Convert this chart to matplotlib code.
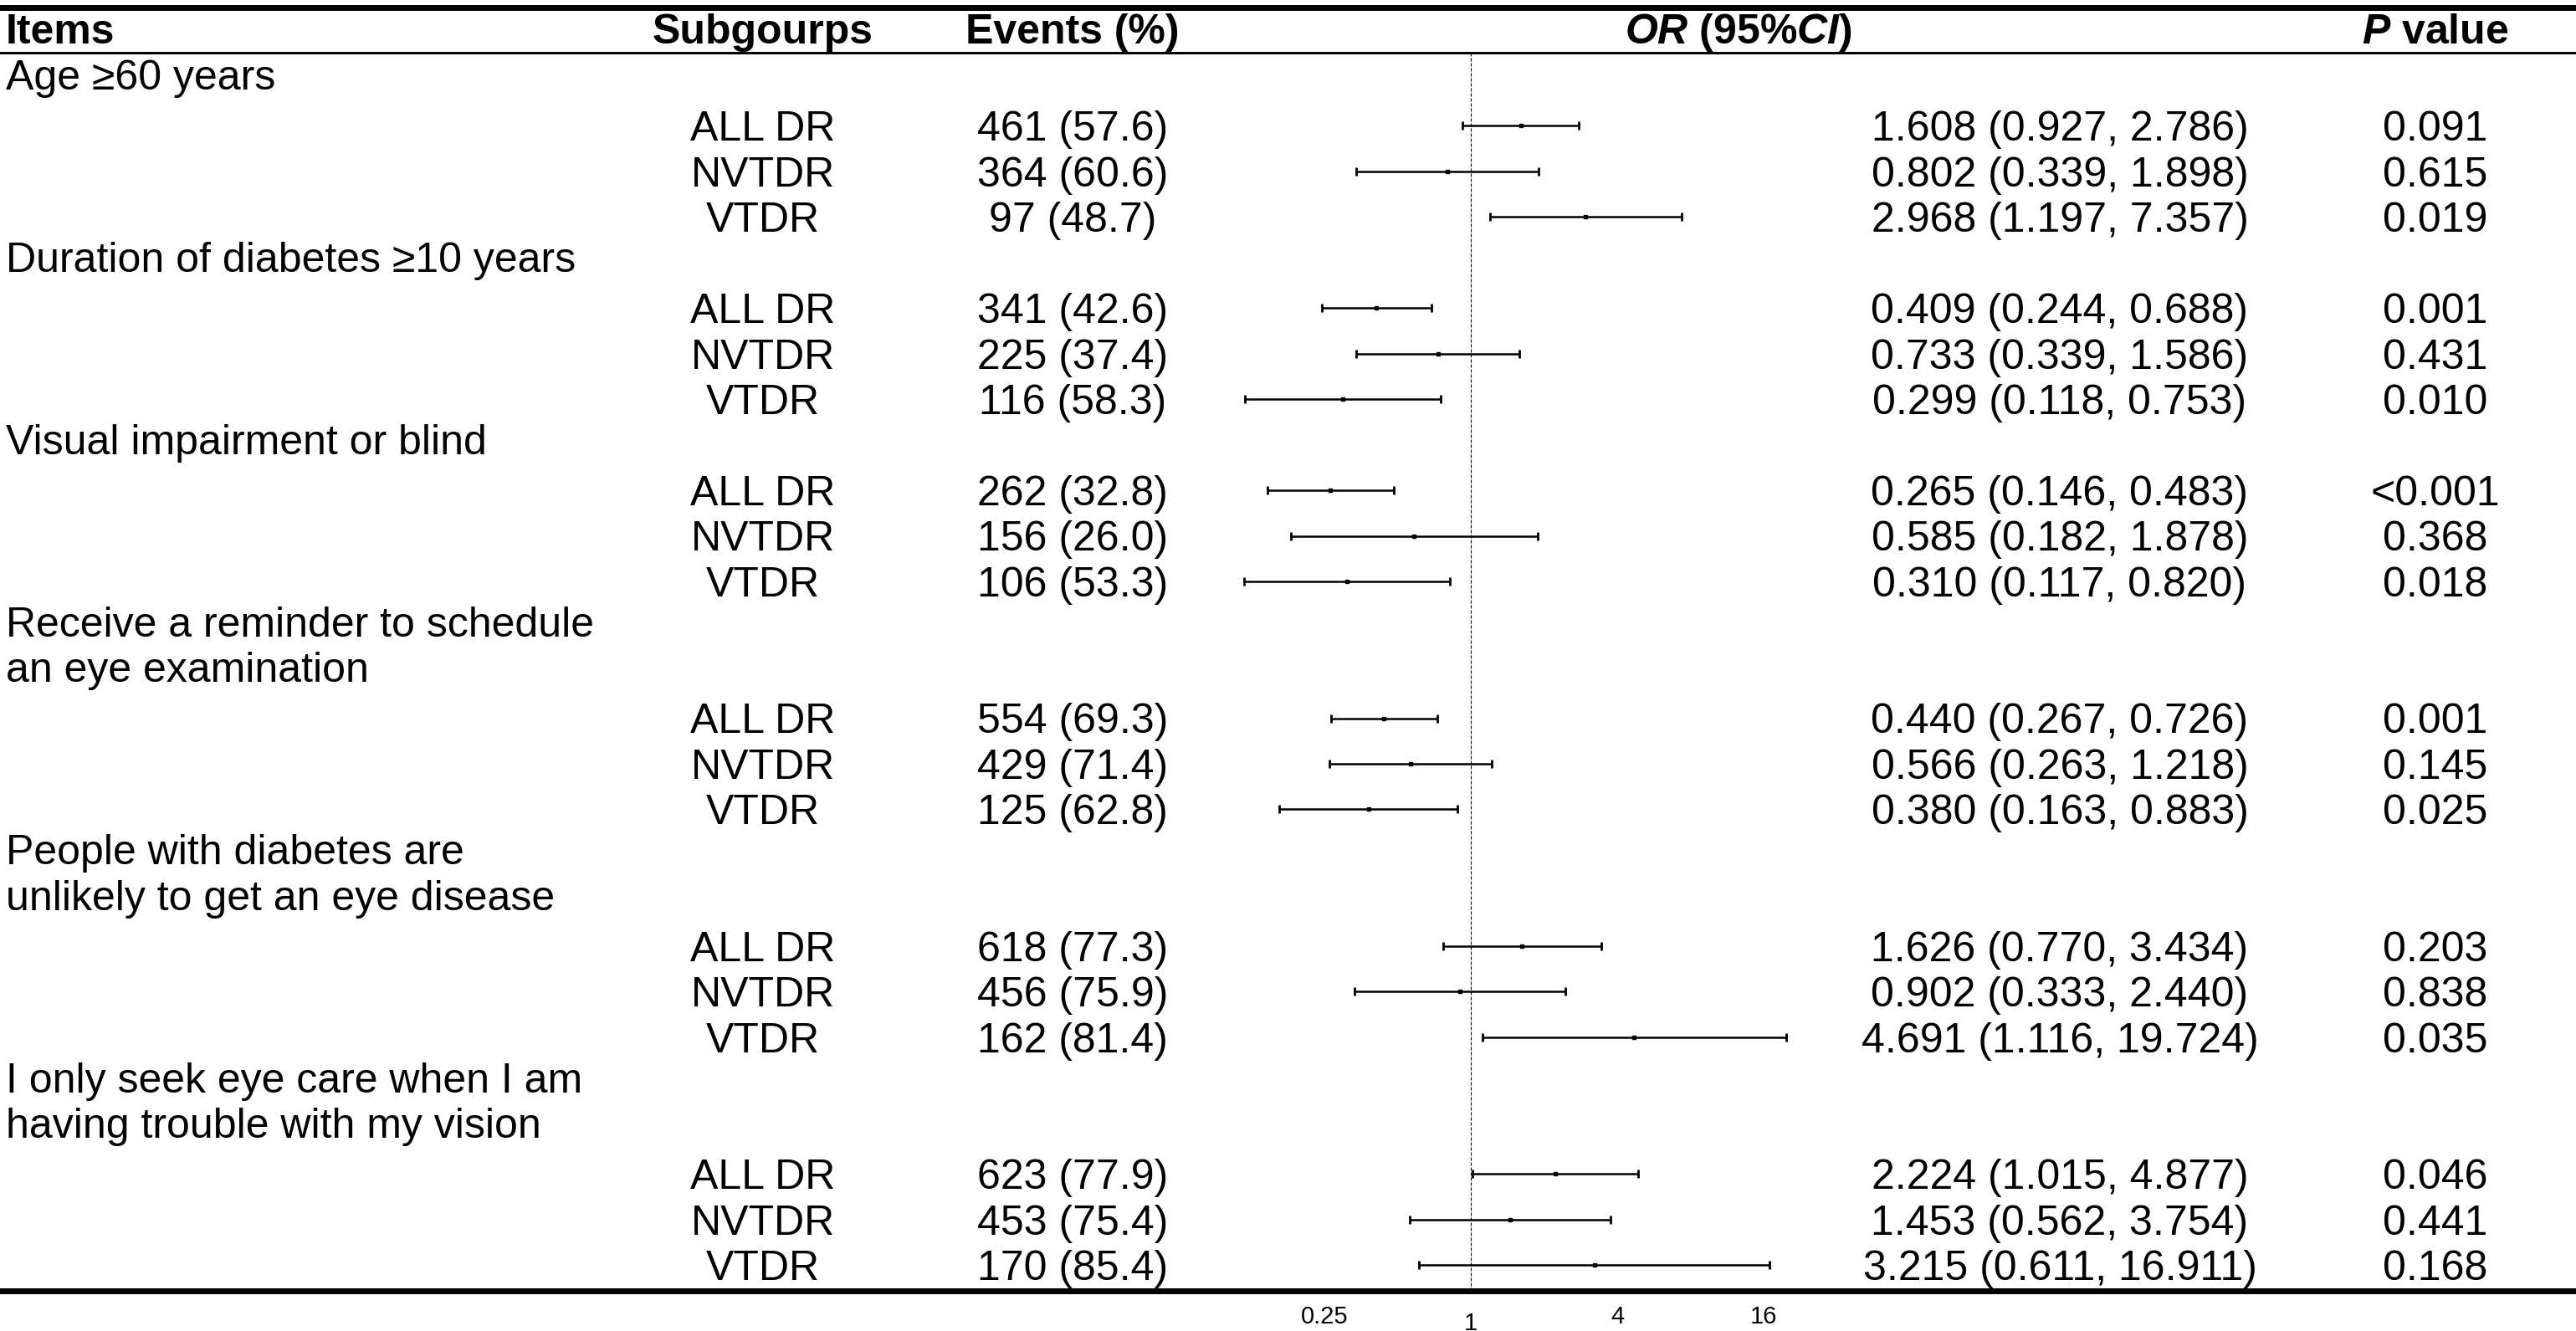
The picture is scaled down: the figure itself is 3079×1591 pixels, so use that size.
import numpy as np
import matplotlib
matplotlib.use('Agg')
from matplotlib import pyplot as plt
from matplotlib.lines import Line2D
from matplotlib.ticker import NullLocator
import matplotlib.transforms as mtransforms

plt.rcParams['font.family'] = ['Liberation Sans', 'DejaVu Sans']
plt.rcParams['mathtext.fontset'] = 'custom'
plt.rcParams['mathtext.rm'] = 'Liberation Sans:bold'
plt.rcParams['mathtext.it'] = 'Liberation Sans:italic:bold'

items = [
    'Age \u226560 years',
    'Duration of diabetes \u226510 years',
    'Visual impairment or blind',
    'Receive a reminder to schedule\nan eye examination',
    'People with diabetes are\nunlikely to get an eye disease',
    'I only seek eye care when I am\nhaving trouble with my vision',
]
subgroups = ['ALL DR', 'NVTDR', 'VTDR']
events_n = [461, 364, 97, 341, 225, 116, 262, 156, 106,
            554, 429, 125, 618, 456, 162, 623, 453, 170]
events_pct = [57.6, 60.6, 48.7, 42.6, 37.4, 58.3, 32.8, 26.0, 53.3,
              69.3, 71.4, 62.8, 77.3, 75.9, 81.4, 77.9, 75.4, 85.4]
odds = np.array([1.608, 0.802, 2.968, 0.409, 0.733, 0.299, 0.265, 0.585, 0.310,
                 0.440, 0.566, 0.380, 1.626, 0.902, 4.691, 2.224, 1.453, 3.215])
ci_low = np.array([0.927, 0.339, 1.197, 0.244, 0.339, 0.118, 0.146, 0.182, 0.117,
                   0.267, 0.263, 0.163, 0.770, 0.333, 1.116, 1.015, 0.562, 0.611])
ci_high = np.array([2.786, 1.898, 7.357, 0.688, 1.586, 0.753, 0.483, 1.878, 0.820,
                    0.726, 1.218, 0.883, 3.434, 2.440, 19.724, 4.877, 3.754, 16.911])
p_values = ['0.091', '0.615', '0.019', '0.001', '0.431', '0.010', '<0.001', '0.368', '0.018',
            '0.001', '0.145', '0.025', '0.203', '0.838', '0.035', '0.046', '0.441', '0.168']
x_ticks = [0.25, 1, 4, 16]
x_tick_labels = ['0.25', '1', '4', '16']

# row layout: label lines first, then one row per subgroup
label_rows = []
sub_rows = []
sub_names = []
row = 0
for name in items:
    for line in name.split('\n'):
        label_rows.append((row, line))
        row += 1
    for s in subgroups:
        sub_rows.append(row)
        sub_names.append(s)
        row += 1
sub_rows = np.array(sub_rows)

W, H = 3079, 1591
fig = plt.figure(figsize=(W / 100, H / 100), dpi=100)
ax = fig.add_axes([1450 / W, 1 - 1543 / H, 750 / W, (1543 - 62.5) / H])
ax.set_xscale('log', base=2)
ax.set_xlim(2 ** -3.516, 2 ** 5.046)
ax.set_ylim(26.56, -0.606)

ax.errorbar(odds, sub_rows, xerr=[odds - ci_low, ci_high - odds], fmt='s',
            color='black', ms=3.5, elinewidth=1.8, capsize=3.6, capthick=2.0)
ax.axvline(1, color='black', lw=0.8, ls=(0, (3.6, 1.8)))

for sp in ax.spines.values():
    sp.set_visible(False)
ax.set_yticks([])
ax.set_xticks(x_ticks, x_tick_labels)
ax.xaxis.set_minor_locator(NullLocator())
ax.tick_params(axis='x', length=0, pad=12, labelsize=21)
ax.xaxis.get_major_ticks()[1].set_pad(18)

trans = mtransforms.blended_transform_factory(fig.transFigure, ax.transData)
fs = 36

# header
hy = -0.798
ax.text(7 / W, hy, 'Items', transform=trans, fontsize=fs, fontweight='bold', va='baseline')
ax.text(912 / W, hy, 'Subgourps', transform=trans, fontsize=fs, fontweight='bold',
        va='baseline', ha='center')
ax.text(1282 / W, hy, 'Events (%)', transform=trans, fontsize=fs, fontweight='bold',
        va='baseline', ha='center')
ax.text(2078 / W, hy, r'$OR$ (95%$CI$)', transform=trans, fontsize=fs, fontweight='bold',
        va='baseline', ha='center')
ax.text(2911 / W, hy, r'$P$ value', transform=trans, fontsize=fs, fontweight='bold',
        va='baseline', ha='center')

for r, line in label_rows:
    ax.text(7 / W, r + 0.21, line, transform=trans, fontsize=fs, va='baseline')

for i, r in enumerate(sub_rows):
    y = r + 0.33
    ax.text(912 / W, y, sub_names[i], transform=trans, fontsize=fs, va='baseline', ha='center')
    ax.text(1282 / W, y, f'{events_n[i]} ({events_pct[i]:.1f})', transform=trans,
            fontsize=fs, va='baseline', ha='center')
    ax.text(2462 / W, y, f'{odds[i]:.3f} ({ci_low[i]:.3f}, {ci_high[i]:.3f})',
            transform=trans, fontsize=fs, va='baseline', ha='center')
    ax.text(2911 / W, y, p_values[i], transform=trans, fontsize=fs, va='baseline', ha='center')

# table rules across the full width
rule = mtransforms.blended_transform_factory(fig.transFigure, ax.transAxes)
for yy, lw in [(1 + (62.5 - 9) / (1543 - 62.5), 5.0), (1.0, 2.2), (0.0, 5.0)]:
    fig.add_artist(Line2D([0, 1], [yy, yy], color='black', lw=lw, transform=rule))

fig.savefig('out.png', dpi=100)
